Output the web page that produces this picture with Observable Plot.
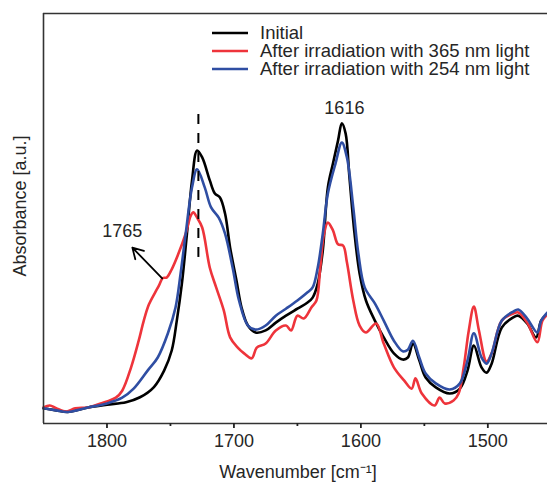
<!DOCTYPE html>
<html><head><meta charset="utf-8">
<script src="https://cdn.jsdelivr.net/npm/d3@7"></script>
<script src="https://cdn.jsdelivr.net/npm/@observablehq/plot@0.6"></script>
<style>
body{margin:0;background:#fff;}
svg{font-family:"Liberation Sans",Arial,sans-serif;}
</style>
</head><body><div id="chart"></div>
<script>
const seriesNames = ["Initial", "After irradiation with 365 nm light", "After irradiation with 254 nm light"];
const seriesColors = ["#000000", "#ee343b", "#2f4ea3"];

const initialWn  = [1850,1840,1831,1815,1800,1785,1774,1763,1755,1749,1745,1741,1737,1733,1729,1725,1719,1715,1711,1707,1703,1698,1694,1689,1683,1675,1667,1659,1650,1642,1638,1634,1630,1626,1622,1618,1615,1612,1609,1605,1601,1596,1589,1582,1574,1567,1563,1559,1554,1549,1541,1530,1522,1516,1511,1505,1501,1497,1489,1480,1476,1469,1462,1458,1453];
const initialAbs = [0.037,0.032,0.028,0.039,0.046,0.052,0.064,0.089,0.129,0.178,0.251,0.341,0.463,0.593,0.666,0.649,0.593,0.561,0.551,0.512,0.429,0.349,0.283,0.239,0.222,0.227,0.246,0.263,0.280,0.295,0.307,0.341,0.422,0.576,0.634,0.690,0.732,0.707,0.600,0.463,0.366,0.300,0.251,0.210,0.171,0.156,0.161,0.195,0.154,0.112,0.088,0.073,0.085,0.129,0.190,0.137,0.124,0.146,0.234,0.259,0.263,0.244,0.210,0.251,0.268];

const uv365Wn  = [1850,1845,1840,1832,1825,1815,1805,1800,1793,1788,1781,1775,1771,1767,1762,1759,1756,1753,1749,1744,1738,1734,1732,1729,1725,1719,1714,1708,1703,1697,1692,1686,1682,1675,1667,1659,1655,1650,1645,1639,1635,1632,1629,1626,1622,1618,1614,1611,1606,1601,1596,1588,1582,1574,1566,1560,1557,1552,1542,1538,1534,1527,1523,1519,1515,1511,1507,1501,1497,1489,1480,1476,1469,1461,1457,1453];
const uv365Abs = [0.039,0.044,0.037,0.029,0.037,0.039,0.049,0.054,0.063,0.080,0.137,0.202,0.251,0.290,0.320,0.337,0.355,0.356,0.376,0.412,0.463,0.507,0.515,0.502,0.478,0.380,0.332,0.276,0.210,0.185,0.171,0.159,0.185,0.195,0.227,0.239,0.227,0.263,0.256,0.283,0.300,0.380,0.463,0.490,0.471,0.437,0.434,0.393,0.300,0.239,0.222,0.244,0.195,0.137,0.105,0.085,0.110,0.073,0.044,0.063,0.049,0.056,0.073,0.137,0.227,0.285,0.227,0.151,0.171,0.251,0.268,0.271,0.246,0.198,0.251,0.266];

const uv254Wn  = [1850,1840,1831,1815,1800,1788,1779,1768,1760,1752,1746,1742,1738,1733,1729,1723,1718,1712,1707,1701,1696,1689,1683,1675,1667,1659,1650,1642,1638,1634,1630,1626,1620,1615,1611,1606,1602,1597,1589,1582,1574,1567,1563,1559,1554,1549,1541,1530,1522,1516,1511,1505,1501,1497,1489,1480,1476,1469,1461,1458,1453];
const uv254Abs = [0.037,0.032,0.028,0.039,0.049,0.063,0.085,0.129,0.161,0.220,0.283,0.366,0.463,0.576,0.620,0.576,0.527,0.502,0.463,0.380,0.300,0.239,0.229,0.239,0.263,0.280,0.300,0.320,0.332,0.380,0.463,0.561,0.634,0.685,0.649,0.527,0.415,0.332,0.293,0.251,0.202,0.176,0.180,0.202,0.161,0.122,0.098,0.083,0.098,0.154,0.220,0.161,0.146,0.171,0.251,0.273,0.278,0.256,0.222,0.251,0.271];

const majorTicks = [1800, 1700, 1600, 1500];
const minorTicks = [1750, 1650, 1550];
const dashedMarker = [{wn: 1728, y1: 0.405, y2: 0.763}];
const peakLabels = [{wn: 1613, abs: 0.768, label: "1616"}, {wn: 1788, abs: 0.468, label: "1765"}];
const arrows = [{x1: 1756.5, y1: 0.354, x2: 1780, y2: 0.429}];
const xLabel = "Wavenumber [cm⁻¹]";
const yLabel = "Absorbance [a.u.]";

const rows = [];
[[initialWn, initialAbs], [uv365Wn, uv365Abs], [uv254Wn, uv254Abs]].forEach(([w, a], i) => {
  w.forEach((wn, j) => rows.push({series: seriesNames[i], wn, abs: a[j]}));
});

const ink = "#262626";
const plot = Plot.plot({
  width: 547, height: 483,
  marginTop: 13, marginBottom: 60, marginLeft: 43, marginRight: 0,
  style: {fontFamily: "'Liberation Sans', Arial, sans-serif", background: "#fff"},
  x: {domain: [1850, 1453], axis: null},
  y: {domain: [0, 1], axis: null},
  color: {domain: seriesNames, range: seriesColors},
  marks: [
    Plot.line(rows, {x: "wn", y: "abs", z: "series", stroke: "series", curve: "catmull-rom", strokeWidth: 2.6}),
    Plot.ruleX(dashedMarker, {x: "wn", y1: "y1", y2: "y2", stroke: "#000", strokeWidth: 2, strokeDasharray: "10,9"}),
    Plot.arrow(arrows, {x1: "x1", y1: "y1", x2: "x2", y2: "y2", stroke: "#000", strokeWidth: 1.8, headLength: 10}),
    Plot.text(peakLabels, {x: "wn", y: "abs", text: "label", fontSize: 18, fill: ink}),
    Plot.ruleX([1850], {stroke: "#333", strokeWidth: 1.6}),
    Plot.ruleY([1], {stroke: "#333", strokeWidth: 1.6}),
    Plot.ruleY([0], {stroke: "#333", strokeWidth: 1.6}),
    Plot.axisX(majorTicks, {tickSize: 5, tickPadding: 6, fontSize: 18, strokeWidth: 1.8, stroke: "#222", color: ink, tickFormat: d => String(d), label: null}),
    Plot.axisX(minorTicks, {tickSize: 3, strokeWidth: 1.8, stroke: "#222", tickFormat: () => "", label: null})
  ]
});

const svg = d3.select(plot);
svg.append("text").attr("x", 298).attr("y", 472).attr("dy", "0.35em")
  .attr("text-anchor", "middle").attr("font-size", 18).attr("fill", ink).text(xLabel);
svg.append("text").attr("transform", "translate(20,206) rotate(-90)").attr("dy", "0.35em")
  .attr("text-anchor", "middle").attr("font-size", 18).attr("fill", ink).text(yLabel);
const legend = svg.append("g");
seriesNames.forEach((name, i) => {
  const cy = 33 + i * 18;
  legend.append("line").attr("x1", 212).attr("x2", 248).attr("y1", cy).attr("y2", cy)
    .attr("stroke", seriesColors[i]).attr("stroke-width", 2.6);
  legend.append("text").attr("x", 260).attr("y", cy).attr("dy", "0.35em")
    .attr("text-anchor", "start").attr("font-size", 18.5).attr("fill", ink).text(name);
});
document.getElementById("chart").appendChild(plot);
</script>
</body></html>
